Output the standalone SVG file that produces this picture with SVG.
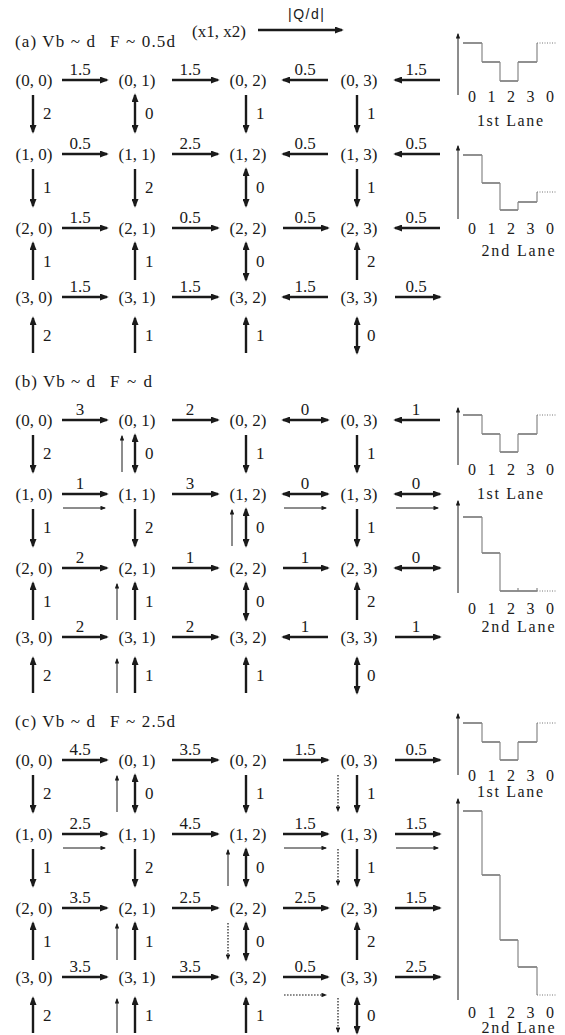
<svg xmlns="http://www.w3.org/2000/svg" width="565" height="1035" viewBox="0 0 565 1035">
<style>
text{font-family:"Liberation Serif","Times New Roman",serif;font-size:17px;fill:#1a1a1a}
.c{text-anchor:middle}
.q{font-family:"Liberation Sans",Arial,sans-serif;font-size:14px}
.g{font-size:16px;text-anchor:middle}
line{fill:none}
.a{stroke:#1a1a1a;stroke-width:2.4;marker-end:url(#h)}
.b{stroke:#1a1a1a;stroke-width:2.4;marker-start:url(#h);marker-end:url(#h)}
.t{stroke:#1a1a1a;stroke-width:1;marker-end:url(#s)}
.d{stroke:#1a1a1a;stroke-width:1.2;stroke-dasharray:1.6 1.4;marker-end:url(#s)}
.ax{stroke:#1a1a1a;stroke-width:1;marker-end:url(#s)}
.sh{stroke:#222;stroke-width:1.2;fill:none}
.sv{stroke:#888;stroke-width:1.2;fill:none}
.sd{stroke:#777;stroke-width:1;stroke-dasharray:1 1.5;fill:none}
</style>
<defs>
<marker id="h" viewBox="0 0 10 8" refX="8" refY="4" markerWidth="9" markerHeight="7" markerUnits="userSpaceOnUse" orient="auto-start-reverse"><path d="M0,0 L10,4 L0,8 z" fill="#1a1a1a"/></marker>
<marker id="s" viewBox="0 0 10 8" refX="8" refY="4" markerWidth="6" markerHeight="4.5" markerUnits="userSpaceOnUse" orient="auto-start-reverse"><path d="M0,0 L10,4 L0,8 z" fill="#1a1a1a"/></marker>
</defs>

<g id="header">
<text x="192" y="37">(x1, x2)</text>
<line class="a" x1="258" y1="30" x2="342" y2="30"/>
<text class="q" x="288" y="19" textLength="36">|Q/d|</text>
</g>

<g id="titles">
<text x="15" y="47" textLength="80">(a) Vb ~ d</text><text x="110" y="47" textLength="65">F ~ 0.5d</text>
<text x="15" y="387" textLength="80">(b) Vb ~ d</text><text x="110" y="387" textLength="42">F ~ d</text>
<text x="15" y="727" textLength="80">(c) Vb ~ d</text><text x="110" y="727" textLength="65">F ~ 2.5d</text>
</g>

<!-- Panel a nodes -->
<g id="a00"><text class="c" x="34" y="86">(0, 0)</text></g>
<g id="a01"><text class="c" x="137" y="86">(0, 1)</text></g>
<g id="a02"><text class="c" x="248" y="86">(0, 2)</text></g>
<g id="a03"><text class="c" x="359" y="86">(0, 3)</text></g>
<g id="a10"><text class="c" x="34" y="160">(1, 0)</text></g>
<g id="a11"><text class="c" x="137" y="160">(1, 1)</text></g>
<g id="a12"><text class="c" x="248" y="160">(1, 2)</text></g>
<g id="a13"><text class="c" x="359" y="160">(1, 3)</text></g>
<g id="a20"><text class="c" x="34" y="234">(2, 0)</text></g>
<g id="a21"><text class="c" x="137" y="234">(2, 1)</text></g>
<g id="a22"><text class="c" x="248" y="234">(2, 2)</text></g>
<g id="a23"><text class="c" x="359" y="234">(2, 3)</text></g>
<g id="a30"><text class="c" x="34" y="303">(3, 0)</text></g>
<g id="a31"><text class="c" x="137" y="303">(3, 1)</text></g>
<g id="a32"><text class="c" x="248" y="303">(3, 2)</text></g>
<g id="a33"><text class="c" x="359" y="303">(3, 3)</text></g>
<!-- Panel b nodes -->
<g id="b00"><text class="c" x="34" y="426">(0, 0)</text></g>
<g id="b01"><text class="c" x="137" y="426">(0, 1)</text></g>
<g id="b02"><text class="c" x="248" y="426">(0, 2)</text></g>
<g id="b03"><text class="c" x="359" y="426">(0, 3)</text></g>
<g id="b10"><text class="c" x="34" y="500">(1, 0)</text></g>
<g id="b11"><text class="c" x="137" y="500">(1, 1)</text></g>
<g id="b12"><text class="c" x="248" y="500">(1, 2)</text></g>
<g id="b13"><text class="c" x="359" y="500">(1, 3)</text></g>
<g id="b20"><text class="c" x="34" y="574">(2, 0)</text></g>
<g id="b21"><text class="c" x="137" y="574">(2, 1)</text></g>
<g id="b22"><text class="c" x="248" y="574">(2, 2)</text></g>
<g id="b23"><text class="c" x="359" y="574">(2, 3)</text></g>
<g id="b30"><text class="c" x="34" y="643">(3, 0)</text></g>
<g id="b31"><text class="c" x="137" y="643">(3, 1)</text></g>
<g id="b32"><text class="c" x="248" y="643">(3, 2)</text></g>
<g id="b33"><text class="c" x="359" y="643">(3, 3)</text></g>
<!-- Panel c nodes -->
<g id="c00"><text class="c" x="34" y="766">(0, 0)</text></g>
<g id="c01"><text class="c" x="137" y="766">(0, 1)</text></g>
<g id="c02"><text class="c" x="248" y="766">(0, 2)</text></g>
<g id="c03"><text class="c" x="359" y="766">(0, 3)</text></g>
<g id="c10"><text class="c" x="34" y="840">(1, 0)</text></g>
<g id="c11"><text class="c" x="137" y="840">(1, 1)</text></g>
<g id="c12"><text class="c" x="248" y="840">(1, 2)</text></g>
<g id="c13"><text class="c" x="359" y="840">(1, 3)</text></g>
<g id="c20"><text class="c" x="34" y="914">(2, 0)</text></g>
<g id="c21"><text class="c" x="137" y="914">(2, 1)</text></g>
<g id="c22"><text class="c" x="248" y="914">(2, 2)</text></g>
<g id="c23"><text class="c" x="359" y="914">(2, 3)</text></g>
<g id="c30"><text class="c" x="34" y="983">(3, 0)</text></g>
<g id="c31"><text class="c" x="137" y="983">(3, 1)</text></g>
<g id="c32"><text class="c" x="248" y="983">(3, 2)</text></g>
<g id="c33"><text class="c" x="359" y="983">(3, 3)</text></g>

<g id="connectors">
<!-- a horizontal -->
<line class="a" x1="62" y1="80" x2="107" y2="80"/><text class="c" x="80" y="75">1.5</text>
<line class="a" x1="172" y1="80" x2="218" y2="80"/><text class="c" x="190" y="75">1.5</text>
<line class="a" x1="328" y1="80" x2="283" y2="80"/><text class="c" x="305" y="75">0.5</text>
<line class="a" x1="440" y1="80" x2="395" y2="80"/><text class="c" x="416" y="75">1.5</text>
<line class="a" x1="62" y1="154" x2="107" y2="154"/><text class="c" x="80" y="149">0.5</text>
<line class="a" x1="172" y1="154" x2="218" y2="154"/><text class="c" x="190" y="149">2.5</text>
<line class="a" x1="328" y1="154" x2="283" y2="154"/><text class="c" x="305" y="149">0.5</text>
<line class="a" x1="440" y1="154" x2="395" y2="154"/><text class="c" x="416" y="149">0.5</text>
<line class="a" x1="62" y1="228" x2="107" y2="228"/><text class="c" x="80" y="223">1.5</text>
<line class="a" x1="172" y1="228" x2="218" y2="228"/><text class="c" x="190" y="223">0.5</text>
<line class="a" x1="283" y1="228" x2="328" y2="228"/><text class="c" x="305" y="223">0.5</text>
<line class="a" x1="440" y1="228" x2="395" y2="228"/><text class="c" x="416" y="223">0.5</text>
<line class="a" x1="62" y1="297" x2="107" y2="297"/><text class="c" x="80" y="292">1.5</text>
<line class="a" x1="172" y1="297" x2="218" y2="297"/><text class="c" x="190" y="292">1.5</text>
<line class="a" x1="328" y1="297" x2="283" y2="297"/><text class="c" x="305" y="292">1.5</text>
<line class="a" x1="395" y1="297" x2="440" y2="297"/><text class="c" x="416" y="292">0.5</text>
<!-- a vertical -->
<line class="a" x1="33" y1="95" x2="33" y2="132"/><text x="43" y="119">2</text>
<line class="b" x1="135" y1="95" x2="135" y2="132"/><text x="145" y="119">0</text>
<line class="a" x1="246" y1="95" x2="246" y2="132"/><text x="256" y="119">1</text>
<line class="a" x1="357" y1="95" x2="357" y2="132"/><text x="367" y="119">1</text>
<line class="a" x1="33" y1="169" x2="33" y2="206"/><text x="43" y="193">1</text>
<line class="a" x1="135" y1="169" x2="135" y2="206"/><text x="145" y="193">2</text>
<line class="b" x1="246" y1="169" x2="246" y2="206"/><text x="256" y="193">0</text>
<line class="a" x1="357" y1="169" x2="357" y2="206"/><text x="367" y="193">1</text>
<line class="a" x1="33" y1="280" x2="33" y2="243"/><text x="43" y="267">1</text>
<line class="a" x1="135" y1="280" x2="135" y2="243"/><text x="145" y="267">1</text>
<line class="b" x1="246" y1="243" x2="246" y2="280"/><text x="256" y="267">0</text>
<line class="a" x1="357" y1="280" x2="357" y2="243"/><text x="367" y="267">2</text>
<line class="a" x1="33" y1="353" x2="33" y2="318"/><text x="43" y="341">2</text>
<line class="a" x1="135" y1="353" x2="135" y2="318"/><text x="145" y="341">1</text>
<line class="a" x1="246" y1="353" x2="246" y2="318"/><text x="256" y="341">1</text>
<line class="b" x1="357" y1="318" x2="357" y2="353"/><text x="367" y="341">0</text>

<!-- b horizontal -->
<line class="a" x1="62" y1="420" x2="107" y2="420"/><text class="c" x="80" y="415">3</text>
<line class="a" x1="172" y1="420" x2="218" y2="420"/><text class="c" x="190" y="415">2</text>
<line class="b" x1="283" y1="420" x2="328" y2="420"/><text class="c" x="305" y="415">0</text>
<line class="a" x1="440" y1="420" x2="395" y2="420"/><text class="c" x="416" y="415">1</text>
<line class="a" x1="62" y1="494" x2="107" y2="494"/><text class="c" x="80" y="489">1</text>
<line class="t" x1="63" y1="508" x2="105" y2="508"/>
<line class="a" x1="172" y1="494" x2="218" y2="494"/><text class="c" x="190" y="489">3</text>
<line class="b" x1="283" y1="494" x2="328" y2="494"/><text class="c" x="305" y="489">0</text>
<line class="t" x1="284" y1="508" x2="326" y2="508"/>
<line class="b" x1="395" y1="494" x2="440" y2="494"/><text class="c" x="416" y="489">0</text>
<line class="t" x1="396" y1="508" x2="438" y2="508"/>
<line class="a" x1="62" y1="568" x2="107" y2="568"/><text class="c" x="80" y="563">2</text>
<line class="a" x1="172" y1="568" x2="218" y2="568"/><text class="c" x="190" y="563">1</text>
<line class="a" x1="283" y1="568" x2="328" y2="568"/><text class="c" x="305" y="563">1</text>
<line class="b" x1="395" y1="568" x2="440" y2="568"/><text class="c" x="416" y="563">0</text>
<line class="a" x1="62" y1="637" x2="107" y2="637"/><text class="c" x="80" y="632">2</text>
<line class="a" x1="172" y1="637" x2="218" y2="637"/><text class="c" x="190" y="632">2</text>
<line class="a" x1="328" y1="637" x2="283" y2="637"/><text class="c" x="305" y="632">1</text>
<line class="a" x1="395" y1="637" x2="440" y2="637"/><text class="c" x="416" y="632">1</text>
<!-- b vertical -->
<line class="a" x1="33" y1="435" x2="33" y2="472"/><text x="43" y="459">2</text>
<line class="t" x1="122" y1="472" x2="122" y2="436"/>
<line class="b" x1="135" y1="435" x2="135" y2="472"/><text x="145" y="459">0</text>
<line class="a" x1="246" y1="435" x2="246" y2="472"/><text x="256" y="459">1</text>
<line class="a" x1="357" y1="435" x2="357" y2="472"/><text x="367" y="459">1</text>
<line class="a" x1="33" y1="509" x2="33" y2="546"/><text x="43" y="533">1</text>
<line class="a" x1="135" y1="509" x2="135" y2="546"/><text x="145" y="533">2</text>
<line class="t" x1="232" y1="546" x2="232" y2="510"/>
<line class="b" x1="246" y1="509" x2="246" y2="546"/><text x="256" y="533">0</text>
<line class="a" x1="357" y1="509" x2="357" y2="546"/><text x="367" y="533">1</text>
<line class="a" x1="33" y1="620" x2="33" y2="583"/><text x="43" y="607">1</text>
<line class="t" x1="117" y1="620" x2="117" y2="584"/>
<line class="a" x1="135" y1="620" x2="135" y2="583"/><text x="145" y="607">1</text>
<line class="b" x1="246" y1="583" x2="246" y2="620"/><text x="256" y="607">0</text>
<line class="a" x1="357" y1="620" x2="357" y2="583"/><text x="367" y="607">2</text>
<line class="a" x1="33" y1="693" x2="33" y2="658"/><text x="43" y="681">2</text>
<line class="t" x1="117" y1="693" x2="117" y2="659"/>
<line class="a" x1="135" y1="693" x2="135" y2="658"/><text x="145" y="681">1</text>
<line class="a" x1="246" y1="693" x2="246" y2="658"/><text x="256" y="681">1</text>
<line class="b" x1="357" y1="658" x2="357" y2="693"/><text x="367" y="681">0</text>

<!-- c horizontal -->
<line class="a" x1="62" y1="760" x2="107" y2="760"/><text class="c" x="80" y="755">4.5</text>
<line class="a" x1="172" y1="760" x2="218" y2="760"/><text class="c" x="190" y="755">3.5</text>
<line class="a" x1="283" y1="760" x2="328" y2="760"/><text class="c" x="305" y="755">1.5</text>
<line class="a" x1="395" y1="760" x2="440" y2="760"/><text class="c" x="416" y="755">0.5</text>
<line class="a" x1="62" y1="834" x2="107" y2="834"/><text class="c" x="80" y="829">2.5</text>
<line class="t" x1="63" y1="848" x2="105" y2="848"/>
<line class="a" x1="172" y1="834" x2="218" y2="834"/><text class="c" x="190" y="829">4.5</text>
<line class="a" x1="283" y1="834" x2="328" y2="834"/><text class="c" x="305" y="829">1.5</text>
<line class="t" x1="284" y1="848" x2="326" y2="848"/>
<line class="a" x1="395" y1="834" x2="440" y2="834"/><text class="c" x="416" y="829">1.5</text>
<line class="t" x1="396" y1="848" x2="438" y2="848"/>
<line class="a" x1="62" y1="908" x2="107" y2="908"/><text class="c" x="80" y="903">3.5</text>
<line class="a" x1="172" y1="908" x2="218" y2="908"/><text class="c" x="190" y="903">2.5</text>
<line class="a" x1="283" y1="908" x2="328" y2="908"/><text class="c" x="305" y="903">2.5</text>
<line class="a" x1="395" y1="908" x2="440" y2="908"/><text class="c" x="416" y="903">1.5</text>
<line class="a" x1="62" y1="977" x2="107" y2="977"/><text class="c" x="80" y="972">3.5</text>
<line class="a" x1="172" y1="977" x2="218" y2="977"/><text class="c" x="190" y="972">3.5</text>
<line class="a" x1="283" y1="977" x2="328" y2="977"/><text class="c" x="305" y="972">0.5</text>
<line class="d" x1="284" y1="995" x2="326" y2="995"/>
<line class="a" x1="395" y1="977" x2="440" y2="977"/><text class="c" x="416" y="972">2.5</text>
<!-- c vertical -->
<line class="a" x1="33" y1="775" x2="33" y2="812"/><text x="43" y="799">2</text>
<line class="t" x1="117" y1="812" x2="117" y2="776"/>
<line class="b" x1="135" y1="775" x2="135" y2="812"/><text x="145" y="799">0</text>
<line class="a" x1="246" y1="775" x2="246" y2="812"/><text x="256" y="799">1</text>
<line class="d" x1="338" y1="775" x2="338" y2="811"/>
<line class="a" x1="357" y1="775" x2="357" y2="812"/><text x="367" y="799">1</text>
<line class="a" x1="33" y1="849" x2="33" y2="886"/><text x="43" y="873">1</text>
<line class="a" x1="135" y1="849" x2="135" y2="886"/><text x="145" y="873">2</text>
<line class="t" x1="228" y1="886" x2="228" y2="850"/>
<line class="b" x1="246" y1="849" x2="246" y2="886"/><text x="256" y="873">0</text>
<line class="d" x1="338" y1="849" x2="338" y2="885"/>
<line class="a" x1="357" y1="849" x2="357" y2="886"/><text x="367" y="873">1</text>
<line class="a" x1="33" y1="960" x2="33" y2="923"/><text x="43" y="947">1</text>
<line class="t" x1="117" y1="960" x2="117" y2="924"/>
<line class="a" x1="135" y1="960" x2="135" y2="923"/><text x="145" y="947">1</text>
<line class="d" x1="228" y1="923" x2="228" y2="959"/>
<line class="b" x1="246" y1="923" x2="246" y2="960"/><text x="256" y="947">0</text>
<line class="a" x1="357" y1="960" x2="357" y2="923"/><text x="367" y="947">2</text>
<line class="a" x1="33" y1="1033" x2="33" y2="998"/><text x="43" y="1021">2</text>
<line class="t" x1="117" y1="1033" x2="117" y2="999"/>
<line class="a" x1="135" y1="1033" x2="135" y2="998"/><text x="145" y="1021">1</text>
<line class="a" x1="246" y1="1033" x2="246" y2="998"/><text x="256" y="1021">1</text>
<line class="d" x1="338" y1="998" x2="338" y2="1032"/>
<line class="b" x1="357" y1="998" x2="357" y2="1033"/><text x="367" y="1021">0</text>
</g>

<g id="lane-a1">
<line class="ax" x1="458" y1="95" x2="458" y2="34"/>
<path class="sh" d="M463,43H482M482,62H500M500,81H518M518,62H537"/>
<path class="sv" d="M482,43V62M500,62V81M518,81V62M537,62V43"/>
<path class="sd" d="M537,43H557"/>
<text class="g" x="472" y="102">0</text><text class="g" x="491.5" y="102">1</text><text class="g" x="511" y="102">2</text><text class="g" x="530.5" y="102">3</text><text class="g" x="550" y="102">0</text>
<text class="g" x="510" y="126" textLength="66">1st Lane</text>
</g>
<g id="lane-a2">
<line class="ax" x1="458" y1="219" x2="458" y2="146"/>
<path class="sh" d="M463,155H482M482,183H500M500,210H518M518,202H537"/>
<path class="sv" d="M482,155V183M500,183V210M518,210V202M537,202V192"/>
<path class="sd" d="M537,192H557"/>
<text class="g" x="472" y="234">0</text><text class="g" x="491.5" y="234">1</text><text class="g" x="511" y="234">2</text><text class="g" x="530.5" y="234">3</text><text class="g" x="550" y="234">0</text>
<text class="g" x="518" y="256" textLength="73">2nd Lane</text>
</g>
<g id="lane-b1">
<line class="ax" x1="458" y1="465" x2="458" y2="408"/>
<path class="sh" d="M463,415H482M482,434H500M500,452H518M518,434H537"/>
<path class="sv" d="M482,415V434M500,434V452M518,452V434M537,434V415"/>
<path class="sd" d="M537,415H557"/>
<text class="g" x="472" y="475">0</text><text class="g" x="491.5" y="475">1</text><text class="g" x="511" y="475">2</text><text class="g" x="530.5" y="475">3</text><text class="g" x="550" y="475">0</text>
<text class="g" x="510" y="499" textLength="66">1st Lane</text>
</g>
<g id="lane-b2">
<line class="ax" x1="458" y1="593" x2="458" y2="501"/>
<path class="sh" d="M463,517H482M482,553H500M500,591H537"/>
<path class="sv" d="M482,517V553M500,553V591M518,588V591M537,588V591"/>
<path class="sd" d="M537,591H557"/>
<text class="g" x="472" y="614">0</text><text class="g" x="491.5" y="614">1</text><text class="g" x="511" y="614">2</text><text class="g" x="530.5" y="614">3</text><text class="g" x="550" y="614">0</text>
<text class="g" x="518" y="632" textLength="73">2nd Lane</text>
</g>
<g id="lane-c1">
<line class="ax" x1="458" y1="775" x2="458" y2="714"/>
<path class="sh" d="M463,723H482M482,742H500M500,760H518M518,742H537"/>
<path class="sv" d="M482,723V742M500,742V760M518,760V742M537,742V723"/>
<path class="sd" d="M537,723H557"/>
<text class="g" x="472" y="781">0</text><text class="g" x="491.5" y="781">1</text><text class="g" x="511" y="781">2</text><text class="g" x="530.5" y="781">3</text><text class="g" x="550" y="781">0</text>
<text class="g" x="510" y="797" textLength="66">1st Lane</text>
</g>
<g id="lane-c2">
<line class="ax" x1="458" y1="1000" x2="458" y2="799"/>
<path class="sh" d="M463,811H482M482,875H500M500,940H518M518,967H537"/>
<path class="sv" d="M482,811V875M500,875V940M518,940V967M537,967V995"/>
<path class="sd" d="M537,995H557"/>
<text class="g" x="472" y="1018">0</text><text class="g" x="491.5" y="1018">1</text><text class="g" x="511" y="1018">2</text><text class="g" x="530.5" y="1018">3</text><text class="g" x="550" y="1018">0</text>
<text class="g" x="518" y="1033" textLength="73">2nd Lane</text>
</g>
</svg>
